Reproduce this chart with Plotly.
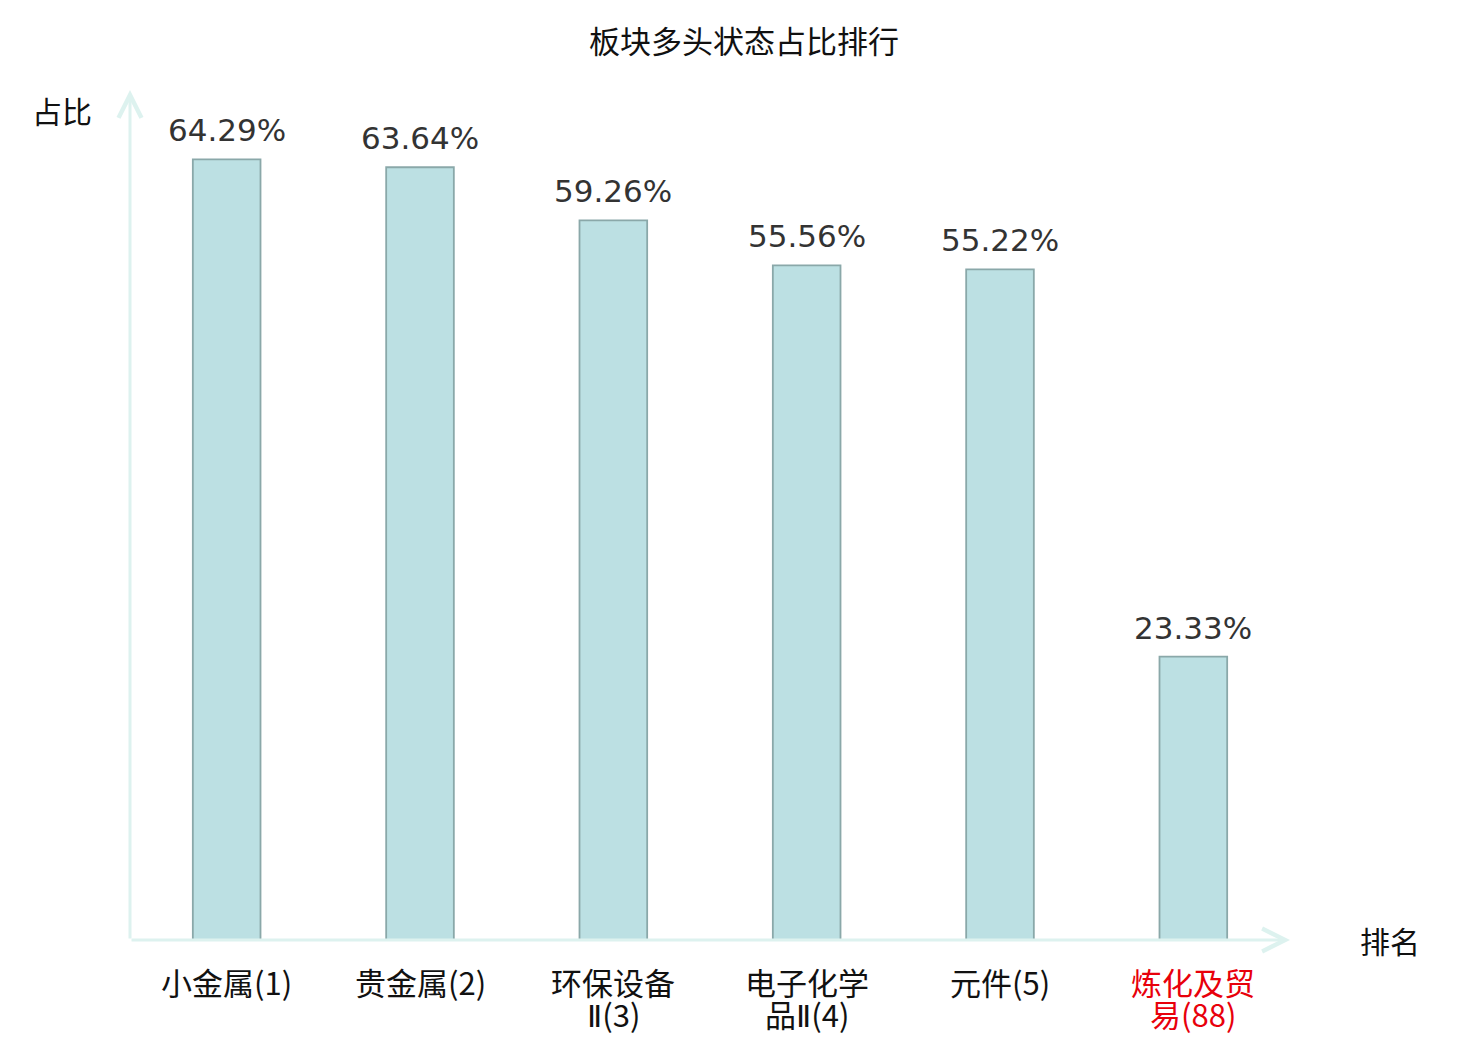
import plotly.graph_objects as go

categories = ["小金属(1)", "贵金属(2)", "环保设备<br>Ⅱ(3)", "电子化学<br>品Ⅱ(4)", "元件(5)", "炼化及贸<br>易(88)"]
ratios = [64.29, 63.64, 59.26, 55.56, 55.22, 23.33]
highlight = [False, False, False, False, False, True]

CJK = "Noto Sans CJK SC, DejaVu Sans"
AXIS_COLOR = "#ddf2ef"

xs = list(range(len(categories)))

fig = go.Figure()
fig.add_trace(go.Bar(
    x=xs, y=ratios, width=0.35,
    marker=dict(color="#bce0e3", line=dict(color="#8aa8a9", width=1.8)),
    hoverinfo="skip",
))

# value labels above the bars
for x, v in zip(xs, ratios):
    fig.add_annotation(
        x=x, y=v, text=f"{v:.2f}%", showarrow=False,
        xanchor="center", yanchor="bottom", yshift=9,
        font=dict(family="DejaVu Sans", size=31, color="#333333"),
    )

# category labels, one annotation per line so the line gap stays tight
for x, c, h in zip(xs, categories, highlight):
    for i, line in enumerate(c.split("<br>")):
        line = line.replace("Ⅱ", "<span style='font-family:DejaVu Sans'>Ⅱ</span>")
        fig.add_annotation(
            x=x, y=0, text=line, showarrow=False,
            xanchor="center", yanchor="middle", yshift=-41 - 32 * i,
            font=dict(family=CJK, size=31, color="#e8000b" if h else "#111111"),
        )

# axis arrows
for x, y in [(1, 0), (0, 1)]:
    fig.add_annotation(
        xref="x domain", yref="y domain", x=x, y=y,
        axref="x domain", ayref="y domain", ax=0, ay=0,
        showarrow=True, arrowhead=5, arrowsize=1.5, arrowwidth=3,
        arrowcolor=AXIS_COLOR, text="",
    )

# axis names
fig.add_annotation(
    xref="paper", yref="paper", x=-0.059, y=0.976, text="占比",
    xanchor="center", yanchor="middle",
    showarrow=False, font=dict(family=CJK, size=30, color="#111111"),
)
fig.add_annotation(
    xref="paper", yref="paper", x=1.086, y=0.0, text="排名",
    xanchor="center", yanchor="middle",
    showarrow=False, font=dict(family=CJK, size=30, color="#111111"),
)

# the page body adds an 8px margin, so the figure is sized and placed for that
fig.update_layout(
    width=1472, height=1032,
    margin=dict(l=122, r=190, t=82, b=100),
    plot_bgcolor="white", paper_bgcolor="white",
    showlegend=False,
    title=dict(
        text="板块多头状态占比排行", x=0.5, xanchor="center",
        y=0.967, yanchor="middle",
        font=dict(family=CJK, size=31, color="#111111"),
    ),
    xaxis=dict(
        range=[-0.5, len(categories) - 0.5], automargin=False,
        showticklabels=False, showline=False, showgrid=False,
        zeroline=False, ticks="",
    ),
    yaxis=dict(
        range=[0, 70], automargin=False, showticklabels=False,
        showgrid=False, zeroline=False, showline=False, ticks="",
    ),
)

fig.write_html("out.html")
